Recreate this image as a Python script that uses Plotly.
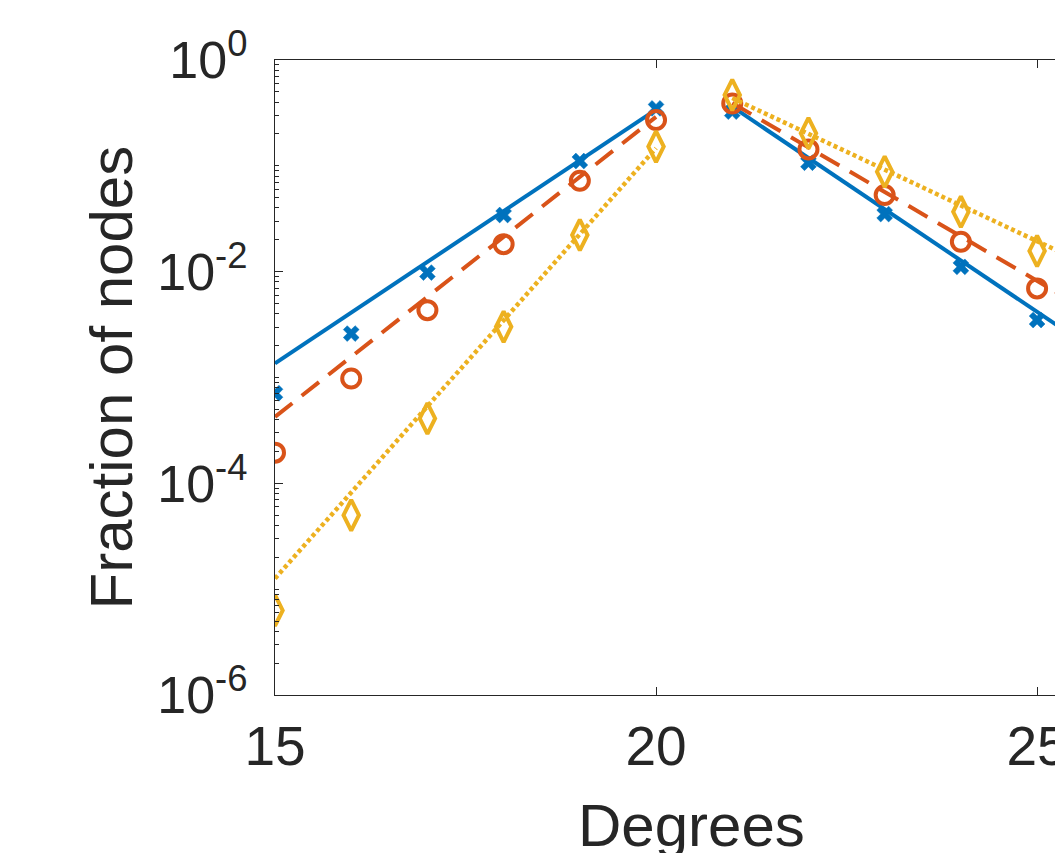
import plotly.graph_objects as go

# ---- data ----
degrees = [15, 16, 17, 18, 19, 20, 21, 22, 23, 24, 25]
series_a = [7.1e-4, 2.6e-3, 9.8e-3, 0.0343, 0.111, 0.349, 0.325, 0.107, 0.035, 0.0111, 0.00349]
series_b = [1.95e-4, 9.8e-4, 4.33e-3, 0.0182, 0.0724, 0.271, 0.389, 0.143, 0.053, 0.0192, 0.00695]
series_c = [6.3e-6, 5.0e-5, 4.1e-4, 3.02e-3, 0.0222, 0.152, 0.467, 0.203, 0.088, 0.0368, 0.0157]

# fitted lines (end points, left and right branch)
fit_left_x = [15, 20]
fit_right_x = [21, 25.5]
fit_a_left = [1.36e-3, 0.34]
fit_a_right = [0.362, 2.39e-3]
fit_b_left = [4.25e-4, 0.29]
fit_b_right = [0.392, 5.05e-3]
fit_c_left = [1.26e-5, 0.147]
fit_c_right = [0.437, 0.01315]

y_tick_vals = [1e-6, 1e-4, 1e-2, 1]
y_tick_text = ["10<sup>-6</sup>", "10<sup>-4</sup>", "10<sup>-2</sup>", "10<sup>0</sup>"]
x_tick_vals = [15, 20, 25]

BLUE = "#0072BD"
RED = "#D95319"
YEL = "#EDB120"
AX = "#262626"
FONT = "Liberation Sans, Arial, sans-serif"

fig = go.Figure()

styles = [
    (series_a, fit_a_left, fit_a_right, BLUE, "solid", 4,
     dict(symbol="x", size=14, line=dict(width=0.5, color=BLUE))),
    (series_b, fit_b_left, fit_b_right, RED, "22px,12px", 4,
     dict(symbol="circle-open", size=18, line=dict(width=4, color=RED))),
    (series_c, fit_c_left, fit_c_right, YEL, "4px,3px", 4.5,
     dict(symbol="diamond-tall-open", size=22, line=dict(width=4, color=YEL))),
]

for vals, fl, fr, col, dash, lw, mk in styles:
    for fx, fy in ((fit_left_x, fl), (fit_right_x, fr)):
        fig.add_trace(go.Scatter(x=fx, y=fy, mode="lines",
                                 line=dict(color=col, width=lw, dash=dash),
                                 showlegend=False, hoverinfo="skip"))
    fig.add_trace(go.Scatter(x=degrees, y=vals, mode="markers",
                             marker=dict(color=col, **mk), showlegend=False))

minor_vals = [m * 10 ** e for e in range(-6, 0) for m in range(1, 10)
              if not (m == 1 and e % 2 == 0)]

fig.update_layout(
    width=1055, height=845,
    margin=dict(l=267, r=0, t=52, b=158, autoexpand=False),
    paper_bgcolor="white", plot_bgcolor="white",
    font=dict(family=FONT, size=55, color=AX),
    xaxis=dict(range=[15, 25.34], tickvals=x_tick_vals, ticks="inside", ticklen=8,
               tickwidth=1.3, tickcolor=AX, showline=True, linecolor=AX, linewidth=1.3,
               mirror="ticks", showgrid=False, zeroline=False, automargin=False,
               tickfont=dict(size=55, color=AX), ticklabelstandoff=3,
               ticklabeloverflow="allow"),
    yaxis=dict(type="log", range=[-6, 0], tickvals=y_tick_vals, ticktext=y_tick_text,
               ticks="inside", ticklen=8, tickwidth=1.3, tickcolor=AX,
               showline=True, linecolor=AX, linewidth=1.3, mirror=False,
               showgrid=False, zeroline=False, automargin=False,
               tickfont=dict(size=52, color=AX), ticklabelstandoff=16,
               ticklabeloverflow="allow",
               minor=dict(tickvals=minor_vals, ticks="inside", ticklen=4,
                          tickwidth=1, tickcolor=AX, showgrid=False)),
    annotations=[
        dict(text="Degrees", xref="paper", yref="paper", x=0.529, y=-0.15,
             xanchor="center", yanchor="top", showarrow=False,
             font=dict(size=60, color=AX, family=FONT)),
        dict(text="Fraction of nodes", xref="paper", yref="paper", x=-0.207, y=0.5,
             xanchor="center", yanchor="middle", textangle=-90, showarrow=False,
             font=dict(size=60, color=AX, family=FONT)),
    ],
)

fig.write_html("out.html")
